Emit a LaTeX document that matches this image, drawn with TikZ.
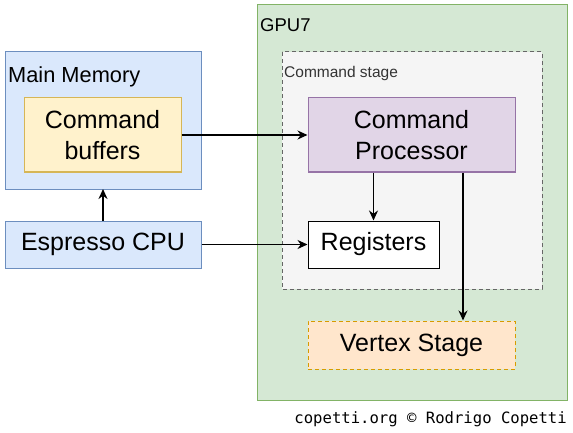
\documentclass[tikz,border=0pt]{standalone}
\usepackage{fontspec}
\setmainfont{Liberation Sans}
\newfontfamily\copyfont{DejaVu Sans Mono}
\usepackage{tikz}
\usetikzlibrary{arrows.meta,positioning}
\definecolor{memfill}{HTML}{DAE8FC}
\definecolor{memline}{HTML}{6C8EBF}
\definecolor{buffill}{HTML}{FFF2CC}
\definecolor{bufline}{HTML}{D6B656}
\definecolor{gpufill}{HTML}{D5E8D4}
\definecolor{gpuline}{HTML}{82B366}
\definecolor{stagefill}{HTML}{F5F5F5}
\definecolor{stageline}{HTML}{666666}
\definecolor{cpfill}{HTML}{E1D5E7}
\definecolor{cpline}{HTML}{9673A6}
\definecolor{vtxfill}{HTML}{FFE6CC}
\definecolor{vtxline}{HTML}{D79B00}

\begin{document}
\begin{tikzpicture}[x=1pt, y=-1pt, >={Stealth[length=10pt,width=9pt]},
    box/.style={draw, line width=1pt, inner sep=0pt, align=center,
        font=\fontsize{25}{31}\selectfont},
    lbl/.style={anchor=base west, inner sep=0pt},
    link/.style={->, line width=1.4pt}]
    \useasboundingbox (0,0) rectangle (573,433);

    % Containers
    \draw[gpuline, fill=gpufill, line width=1pt] (257,5) rectangle (567,400);
    \node[lbl, font=\fontsize{18.5}{22}\selectfont] (gpulbl) at (260,31.5) {GPU7};
    \draw[stageline, fill=stagefill, line width=1pt, dashed, dash pattern=on 4pt off 3pt]
        (282,52) rectangle (542,289);
    \node[lbl, font=\fontsize{15.5}{18}\selectfont, text=black!80] (stagelbl) at (284,78) {Command stage};
    \draw[memline, fill=memfill, line width=1pt] (5,52) rectangle (201,189);
    \node[lbl, font=\fontsize{21.8}{26}\selectfont] (memlbl) at (8,83) {Main Memory};

    % Blocks
    \node[box, draw=bufline, fill=buffill, minimum width=157pt, minimum height=74pt]
        (buffers) at (102.5,135) {Command\\buffers};
    \node[box, draw=memline, fill=memfill, minimum width=196pt, minimum height=47pt]
        (cpu) at (103,244.5) {Espresso CPU};
    \node[box, draw=cpline, fill=cpfill, minimum width=207pt, minimum height=74pt]
        (cp) at (411.5,135) {Command\\Processor};
    \node[box, draw=black, fill=white, minimum width=131pt, minimum height=47pt]
        (regs) at (373.5,244.5) {Registers};
    \node[box, draw=vtxline, fill=vtxfill, dashed, dash pattern=on 4pt off 3pt,
        minimum width=207pt, minimum height=48pt] (vertex) at (411.5,345) {Vertex Stage};

    % Connectors
    \draw[link] (buffers.east) -- (cp.west);
    \draw[link] (cpu.east) -- (regs.west);
    \draw[link] (cpu.north) -- (cpu.north |- 0,189);
    \draw[link] (cp.south -| regs.north) -- (regs.north);
    \draw[link] (cp.south -| 463,0) -- (vertex.north -| 463,0);

    % Credit
    \node[anchor=base east, inner sep=0pt, font=\copyfont\fontsize{15.6}{18}\selectfont] (credit) at (567,423)
        {copetti.org © Rodrigo Copetti};
\end{tikzpicture}
\end{document}
